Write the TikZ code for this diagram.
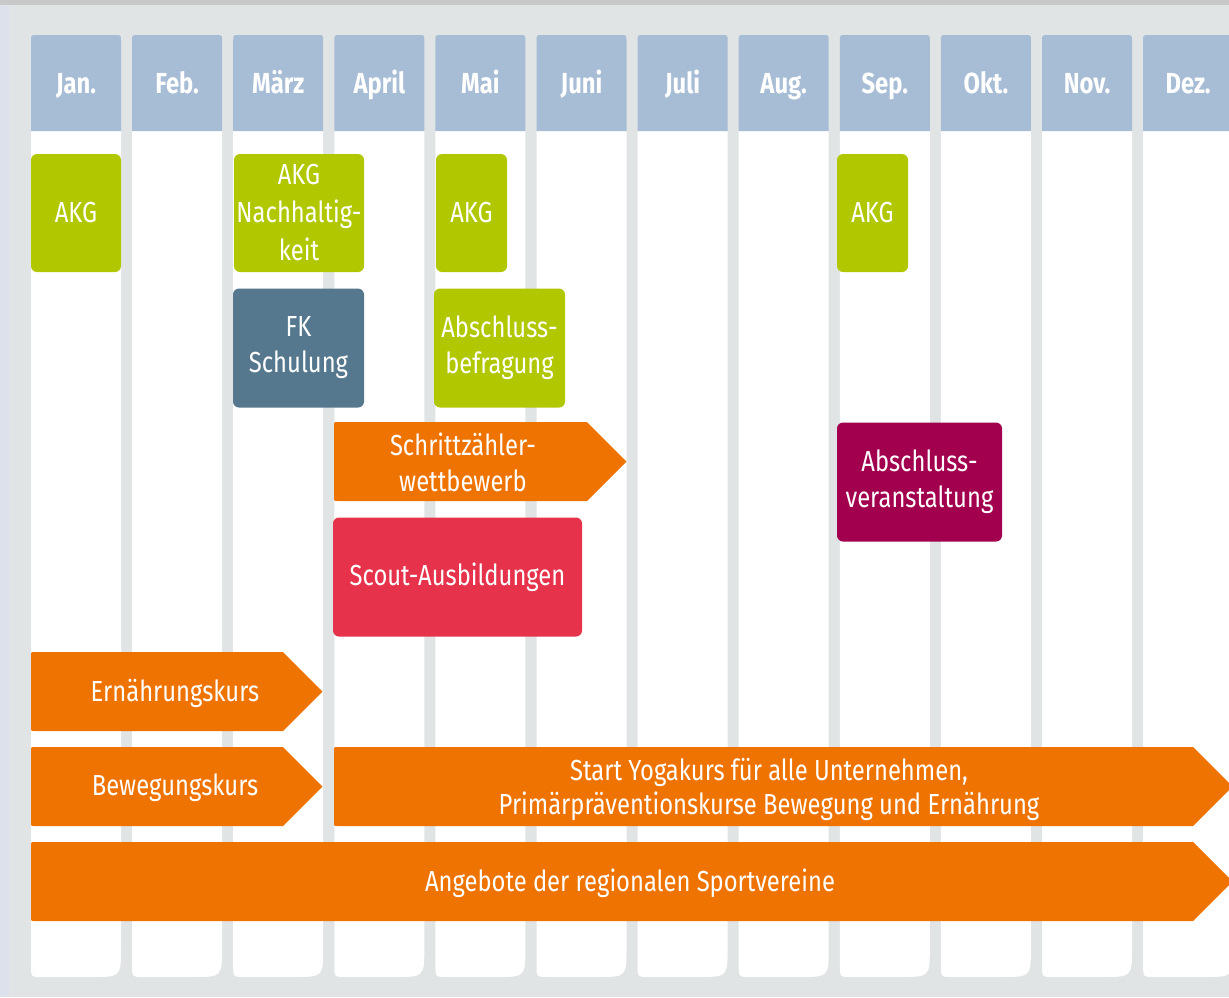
\documentclass[tikz,border=0pt]{standalone}
\usepackage{fontspec}
\setmainfont{Fira Sans}[FakeStretch=0.82]
\definecolor{panel}{HTML}{E1E4E5}
\definecolor{topstrip}{HTML}{C8C8C8}
\definecolor{leftstrip}{HTML}{DCE1EB}
\definecolor{headblue}{HTML}{A7BCD5}
\definecolor{akggreen}{HTML}{B1C800}
\definecolor{fkblue}{HTML}{56788F}
\definecolor{runorange}{HTML}{EF7300}
\definecolor{scoutred}{HTML}{E6334B}
\definecolor{endmagenta}{HTML}{A2004E}
\newcommand\calarrow[6]{% name, left, top, bodyend, bottom, colour
  \pgfmathsetmacro\tipx{#4+(#5-#3)/2}
  \pgfmathsetmacro\midy{(#3+#5)/2}
  \fill[#6] (#4,#3) -- (\tipx,\midy) -- (#4,#5) -- (#2+4,#5) .. controls (#2,#5) .. (#2,#5-4)
    -- (#2,#3+4) .. controls (#2,#3) .. (#2+4,#3) -- cycle;
  \coordinate (#1) at (#2,\midy);
}
\begin{document}
\begin{tikzpicture}[x=0.5pt,y=-0.5pt,
  lbl/.style={text=white,align=center,font=\fontsize{14.5}{18}\selectfont,inner sep=0pt},
  headlbl/.style={text=white,font=\fontsize{14.5}{17}\selectfont\bfseries,inner sep=0pt,anchor=base},
  evbox/.style={lbl,rounded corners=3pt,inner sep=0pt},
  gbox/.style={evbox,fill=akggreen},
  bbox/.style={evbox,fill=fkblue},
  rbox/.style={evbox,fill=scoutred},
  mbox/.style={evbox,fill=endmagenta}]
\useasboundingbox (0,0) rectangle (1229,997);
\clip (0,0) rectangle (1229,997);
\fill[panel] (0,0) rectangle (1229,997);
\fill[leftstrip] (0,0) rectangle (9,997);
\fill[topstrip] (0,0) rectangle (1229,5);
% columns
\foreach \m [count=\i from 0] in {Jan.,Feb.,März,April,Mai,Juni,Juli,Aug.,Sep.,Okt.,Nov.,Dez.}{
  \pgfmathsetmacro\l{31+101.1*\i}
  \pgfmathsetmacro\r{\l+90}
  \pgfmathsetmacro\c{\l+45}
  \fill[white] (\l,131) -- (\l,965) .. controls (\l,977) .. (\l+12,977) -- (\r-30,977)
     .. controls (\r,977) .. (\r,947) -- (\r,131) -- cycle;
  \fill[headblue] (\l,131) -- (\l,41) .. controls (\l,35) .. (\l+6,35) -- (\r-6,35)
     .. controls (\r,35) .. (\r,41) -- (\r,131) -- cycle;
  \node[headlbl] (h\i) at (\c,93) {\m};
}
% boxes
\node[gbox,minimum width=45pt,minimum height=59pt] (akg1) at (76,213) {AKG};
\node[gbox,minimum width=65pt,minimum height=59pt,font=\fontsize{14.5}{19}\selectfont] (akg2) at (299,213) {AKG\\Nachhaltig-\\keit};
\node[gbox,minimum width=35.5pt,minimum height=59pt] (akg3) at (471.5,213) {AKG};
\node[gbox,minimum width=35.5pt,minimum height=59pt] (akg4) at (872.5,213) {AKG};
\node[bbox,minimum width=65.5pt,minimum height=59.5pt] (fk) at (298.5,348) {FK\\Schulung};
\node[gbox,minimum width=65.5pt,minimum height=59.5pt] (absb) at (499.5,348) {Abschluss-\\befragung};
\node[rbox,minimum width=124.5pt,minimum height=59.5pt] (scout) at (457.5,577) {Scout-Ausbildungen};
\node[mbox,minimum width=82.5pt,minimum height=59.5pt] (absv) at (919.5,482) {Abschluss-\\veranstaltung};
% arrows
\calarrow{schritt}{334}{422}{587}{501}{runorange}
\node[lbl] (schrittT) at (463,462) {Schrittzähler-\\wettbewerb};
\calarrow{ern}{31}{652}{283}{731}{runorange}
\node[lbl] (ernT) at (175,693) {Ernährungskurs};
\calarrow{bew}{31}{747}{283}{826}{runorange}
\node[lbl] (bewT) at (175,788) {Bewegungskurs};
\calarrow{yoga}{334}{747}{1193}{826}{runorange}
\node[lbl,font=\fontsize{14.5}{17}\selectfont] (yogaT) at (769,789) {Start Yogakurs für alle Unternehmen,\\Primärpräventionskurse Bewegung und Ernährung};
\calarrow{ang}{31}{842}{1193}{921}{runorange}
\node[lbl] (angT) at (630,883) {Angebote der regionalen Sportvereine};
\end{tikzpicture}
\end{document}
